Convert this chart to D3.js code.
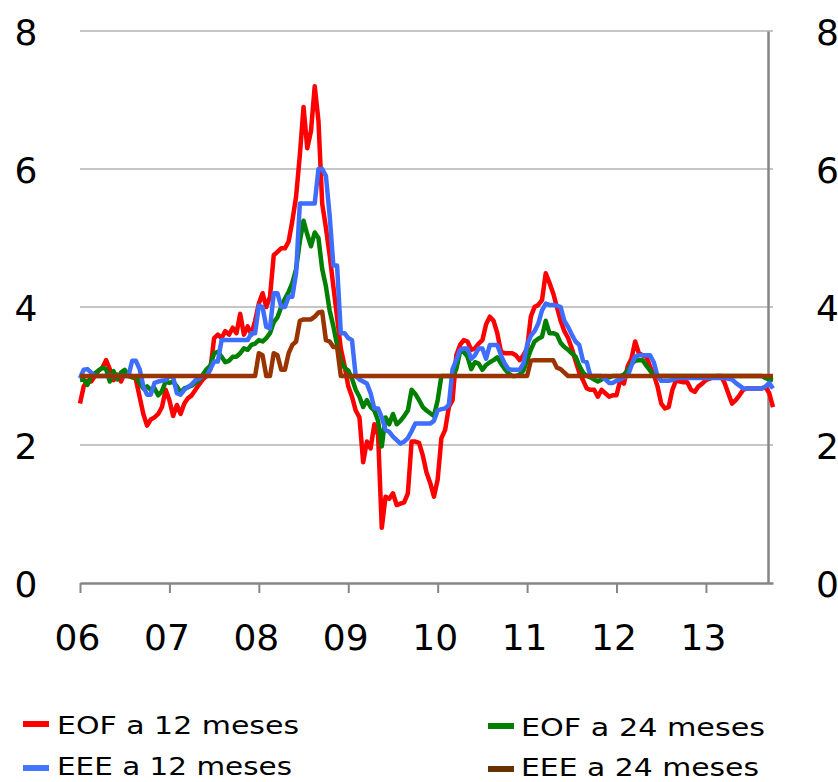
<!DOCTYPE html>
<html>
<head>
<meta charset="utf-8">
<script src="https://cdn.jsdelivr.net/npm/d3@7"></script>
<style>
  body { margin: 0; background: #fff; }
  svg { display: block; }
</style>
</head>
<body>
<svg id="chart" width="838" height="782"></svg>
<script>
// Inflation expectations, half-monthly observations from Jan 2006 to Oct 2013
const startYear = 2006;
const stepsPerYear = 24;

const yearTicks = [2006, 2007, 2008, 2009, 2010, 2011, 2012, 2013];
const yearLabels = ["06", "07", "08", "09", "10", "11", "12", "13"];
const valueTicks = [0, 2, 4, 6, 8];

const seriesNames = ["EOF a 12 meses", "EOF a 24 meses", "EEE a 12 meses", "EEE a 24 meses"];

// EOF, 12 months ahead
const eof12 = [
  2.6, 2.85, 2.93, 2.92, 3.0, 3.08, 3.12, 3.23, 3.1, 2.94, 3.02, 2.92, 3.05, 3.0, 3.0, 2.95, 2.7, 2.45, 2.28, 2.37, 2.4, 2.45, 2.55, 2.8,
  2.65, 2.42, 2.58, 2.45, 2.6, 2.68, 2.72, 2.8, 2.88, 2.95, 3.0, 3.1, 3.55, 3.6, 3.55, 3.65, 3.6, 3.7, 3.62, 3.9, 3.6, 3.72, 3.6, 3.8,
  4.05, 4.2, 4.0, 4.15, 4.75, 4.8, 4.85, 4.85, 4.95, 5.25, 5.6, 6.2, 6.9, 6.3, 6.55, 7.2, 6.7, 5.5, 5.15, 4.75, 4.3, 3.85, 3.4, 3.15,
  2.85, 2.7, 2.5, 2.4, 1.75, 2.05, 1.95, 2.3, 2.15, 0.8, 1.25, 1.22, 1.3, 1.13, 1.15, 1.17, 1.3, 2.05, 2.05, 2.03, 1.85, 1.6, 1.45, 1.25,
  1.5, 2.1, 2.22, 2.55, 2.65, 3.3, 3.45, 3.52, 3.5, 3.38, 3.4, 3.47, 3.52, 3.75, 3.86, 3.8, 3.62, 3.35, 3.33, 3.33, 3.33, 3.3, 3.23, 3.3,
  3.4, 3.86, 4.0, 4.03, 4.1, 4.49, 4.35, 4.2, 4.0, 3.8, 3.65, 3.55, 3.4, 3.22, 3.05, 2.94, 2.82, 2.8, 2.8, 2.7, 2.8, 2.75, 2.7, 2.72,
  2.72, 2.94, 2.89, 3.14, 3.25, 3.5, 3.33, 3.3, 3.28, 3.14, 3.02, 2.85, 2.6, 2.53, 2.55, 2.8, 2.94, 2.92, 2.91, 2.91, 2.8, 2.77, 2.85, 2.89,
  2.94, 2.96, 2.99, 3.0, 3.0, 2.9, 2.75, 2.6, 2.65, 2.72, 2.8, 2.82, 2.82, 2.82, 2.82, 2.82, 2.84, 2.75, 2.55
];

// EOF, 24 months ahead
const eof24 = [
  2.94, 2.95, 2.87, 3.0, 3.04, 3.08, 3.12, 3.1, 2.92, 3.07, 2.95, 3.05, 3.09, 3.0, 2.98, 3.0, 2.9, 2.82, 2.85, 2.8, 2.82, 2.72, 2.78, 2.92,
  2.9, 2.92, 2.85, 2.76, 2.82, 2.84, 2.86, 2.9, 2.94, 3.02, 3.1, 3.15, 3.33, 3.35, 3.28, 3.2, 3.22, 3.28, 3.28, 3.33, 3.4, 3.38, 3.45, 3.47,
  3.52, 3.5, 3.55, 3.62, 3.78, 3.85, 4.0, 4.12, 4.22, 4.35, 4.55, 4.95, 5.25, 5.05, 4.88, 5.08, 5.0, 4.55, 4.3, 3.95, 3.72, 3.45, 3.22, 3.12,
  3.08, 2.96, 2.8, 2.7, 2.55, 2.65, 2.55, 2.5, 2.35, 1.98, 2.4, 2.3, 2.45, 2.3, 2.35, 2.42, 2.5, 2.8, 2.74, 2.65, 2.55, 2.5, 2.46, 2.42,
  2.65, 3.0, 3.0, 3.0, 3.0, 3.1, 3.35, 3.35, 3.28, 3.1, 3.2, 3.18, 3.09, 3.16, 3.2, 3.23, 3.27, 3.18, 3.1, 3.04, 3.0, 3.0, 3.02, 3.08,
  3.23, 3.38, 3.5, 3.54, 3.57, 3.8, 3.62, 3.62, 3.6, 3.48, 3.42, 3.38, 3.33, 3.28, 3.15, 3.05, 3.0, 2.98, 2.95, 2.92, 2.95, 3.0, 2.98, 3.0,
  3.0, 3.0, 3.02, 3.08, 3.18, 3.22, 3.23, 3.23, 3.15, 3.08, 3.0, 3.0, 3.0, 3.0, 3.0, 3.0, 3.0, 3.0, 3.0, 3.0, 3.0, 3.0, 3.0, 3.0,
  3.0, 3.0, 3.0, 3.0, 3.0, 3.0, 3.0, 3.0, 3.0, 3.0, 3.0, 3.0, 3.0, 3.0, 3.0, 3.0, 2.97, 2.95, 2.94
];

// EEE, 12 months ahead
const eee12 = [
  2.97, 3.09, 3.1, 3.05, 3.0, 3.0, 3.0, 3.0, 3.0, 3.0, 3.0, 3.0, 3.0, 3.0, 3.22, 3.22, 3.1, 2.85, 2.73, 2.73, 2.9, 2.92, 2.93, 2.94,
  3.0, 2.98, 2.75, 2.73, 2.8, 2.84, 2.88, 2.94, 2.96, 3.0, 3.0, 3.1, 3.21, 3.21, 3.52, 3.52, 3.52, 3.52, 3.52, 3.52, 3.52, 3.52, 3.62, 3.62,
  4.02, 4.0, 3.71, 3.69, 4.2, 4.2, 4.0, 4.0, 4.15, 4.15, 4.49, 5.5, 5.5, 5.5, 5.5, 5.5, 6.0, 6.0, 5.9, 5.33, 4.6, 4.6, 3.62, 3.62,
  3.55, 3.52, 3.0, 2.95, 2.92, 2.89, 2.75, 2.53, 2.53, 2.4, 2.22, 2.19, 2.12, 2.07, 2.02, 2.05, 2.1, 2.2, 2.31, 2.31, 2.31, 2.31, 2.31, 2.35,
  2.5, 2.52, 2.53, 2.58, 3.1, 3.23, 3.38, 3.4, 3.4, 3.25, 3.3, 3.4, 3.4, 3.25, 3.45, 3.45, 3.45, 3.3, 3.18, 3.1, 3.09, 3.09, 3.09, 3.18,
  3.45, 3.58, 3.65, 3.76, 3.95, 4.05, 4.03, 4.03, 4.02, 4.0, 3.8, 3.71, 3.6, 3.5, 3.45, 3.22, 3.2, 3.0, 3.0, 3.0, 3.0, 2.95, 2.9, 2.9,
  2.93, 2.95, 2.98, 3.0, 3.15, 3.28, 3.3, 3.3, 3.3, 3.3, 3.2, 3.0, 2.93, 2.93, 2.93, 2.94, 2.97, 2.97, 2.97, 2.97, 2.97, 2.97, 2.97, 2.97,
  2.97, 2.97, 2.97, 2.97, 2.97, 2.97, 2.96, 2.95, 2.9, 2.86, 2.82, 2.82, 2.82, 2.82, 2.82, 2.82, 2.85, 2.9, 2.82
];

// EEE, 24 months ahead
const eee24 = [
  3.0, 3.0, 3.0, 3.0, 3.0, 3.0, 3.0, 3.0, 3.0, 3.0, 3.0, 3.0, 3.0, 3.0, 3.0, 3.0, 3.0, 3.0, 3.0, 3.0, 3.0, 3.0, 3.0, 3.0,
  3.0, 3.0, 3.0, 3.0, 3.0, 3.0, 3.0, 3.0, 3.0, 3.0, 3.0, 3.0, 3.0, 3.0, 3.0, 3.0, 3.0, 3.0, 3.0, 3.0, 3.0, 3.0, 3.0, 3.0,
  3.33, 3.3, 3.0, 3.0, 3.33, 3.3, 3.09, 3.09, 3.33, 3.45, 3.5, 3.8, 3.82, 3.82, 3.82, 3.86, 3.92, 3.93, 3.52, 3.5, 3.42, 3.42, 3.0, 3.0,
  3.0, 3.0, 3.0, 3.0, 3.0, 3.0, 3.0, 3.0, 3.0, 3.0, 3.0, 3.0, 3.0, 3.0, 3.0, 3.0, 3.0, 3.0, 3.0, 3.0, 3.0, 3.0, 3.0, 3.0,
  3.0, 3.0, 3.0, 3.0, 3.0, 3.0, 3.0, 3.0, 3.0, 3.0, 3.0, 3.0, 3.0, 3.0, 3.0, 3.0, 3.0, 3.0, 3.0, 3.0, 3.0, 3.0, 3.0, 3.0,
  3.0, 3.22, 3.23, 3.23, 3.23, 3.23, 3.23, 3.23, 3.12, 3.1, 3.05, 3.0, 3.0, 3.0, 3.0, 3.0, 3.0, 3.0, 3.0, 3.0, 3.0, 3.0, 3.0, 3.0,
  3.0, 3.0, 3.0, 3.0, 3.0, 3.0, 3.0, 3.0, 3.0, 3.0, 3.0, 3.0, 3.0, 3.0, 3.0, 3.0, 3.0, 3.0, 3.0, 3.0, 3.0, 3.0, 3.0, 3.0,
  3.0, 3.0, 3.0, 3.0, 3.0, 3.0, 3.0, 3.0, 3.0, 3.0, 3.0, 3.0, 3.0, 3.0, 3.0, 3.0, 3.0, 3.0, 3.0
];

// Observation dates as fractional years (two per month)
const periods = eof12.map((_, i) => startYear + i / stepsPerYear);

const lineColors = ["#ff0000", "#008000", "#3d6eff", "#993300"];
const legendColors = ["#ff0000", "#008000", "#4477ff", "#663300"];
const seriesValues = [eof12, eof24, eee12, eee24];

const svg = d3.select("#chart");
const font = "'DejaVu Sans', Verdana, sans-serif";

const plotLeft = 80, plotRight = 773, plotTop = 31, plotBottom = 583;
const rightAxisX = 768;

const x = d3.scaleLinear().domain([2006, 2013.75]).range([plotLeft, plotRight]);
const y = d3.scaleLinear().domain([0, 8]).range([plotBottom, plotTop]);

// horizontal gridlines
svg.append("g")
  .selectAll("line")
  .data(valueTicks.filter(v => v > 0))
  .join("line")
  .attr("x1", plotLeft)
  .attr("x2", plotRight)
  .attr("y1", d => y(d))
  .attr("y2", d => y(d))
  .attr("stroke", "#c6c6c6")
  .attr("stroke-width", 2);

// left value labels
const leftAxis = svg.append("g")
  .attr("transform", `translate(${plotLeft},0)`)
  .call(d3.axisLeft(y).tickValues(valueTicks).tickSize(0).tickFormat(d3.format("d")));
leftAxis.select(".domain").remove();
leftAxis.selectAll("text")
  .attr("x", -54)
  .attr("dy", 13)
  .attr("text-anchor", "middle")
  .style("font-family", font)
  .style("font-size", "36px")
  .attr("fill", "#000");

// right axis with labels
const rightAxis = svg.append("g")
  .attr("transform", `translate(${rightAxisX},0)`)
  .call(d3.axisRight(y).tickValues(valueTicks).tickSize(0).tickSizeOuter(0).tickFormat(d3.format("d")));
rightAxis.select(".domain")
  .attr("stroke", "#868686")
  .attr("stroke-width", 2.5);
rightAxis.selectAll("text")
  .attr("x", 48)
  .attr("dy", 13)
  .attr("text-anchor", "start")
  .style("font-family", font)
  .style("font-size", "36px")
  .attr("fill", "#000");

// bottom axis with year ticks
const bottomAxis = svg.append("g")
  .attr("transform", `translate(0,${plotBottom})`)
  .call(d3.axisBottom(x)
    .tickValues(yearTicks)
    .tickSize(10)
    .tickSizeOuter(0)
    .tickFormat((d, i) => yearLabels[i]));
bottomAxis.select(".domain")
  .attr("stroke", "#868686")
  .attr("stroke-width", 2.5);
bottomAxis.selectAll(".tick line")
  .attr("stroke", "#868686")
  .attr("stroke-width", 2);
bottomAxis.selectAll("text")
  .attr("y", 67)
  .attr("x", -3)
  .attr("dy", 0)
  .style("font-family", font)
  .style("font-size", "36px")
  .attr("fill", "#000");

// series lines
const line = d3.line()
  .x((d, i) => x(periods[i]))
  .y(d => y(d));

svg.append("g")
  .selectAll("path")
  .data(seriesValues)
  .join("path")
  .attr("d", d => line(d))
  .attr("fill", "none")
  .attr("stroke", (d, i) => lineColors[i])
  .attr("stroke-width", 4.5)
  .attr("stroke-linejoin", "round")
  .attr("stroke-linecap", "butt");

// legend: two columns, two rows
const legendItems = [
  { name: seriesNames[0], color: legendColors[0], sx: 23, tx: 57, sy: 724, by: 734, len: 242 },
  { name: seriesNames[1], color: legendColors[1], sx: 488, tx: 521, sy: 726, by: 736, len: 244 },
  { name: seriesNames[2], color: legendColors[2], sx: 23, tx: 57, sy: 768, by: 775, len: 235 },
  { name: seriesNames[3], color: legendColors[3], sx: 488, tx: 521, sy: 769, by: 776, len: 238 }
];

const legend = svg.append("g");
legend.selectAll("line")
  .data(legendItems)
  .join("line")
  .attr("x1", d => d.sx)
  .attr("x2", d => d.sx + 26)
  .attr("y1", d => d.sy)
  .attr("y2", d => d.sy)
  .attr("stroke", d => d.color)
  .attr("stroke-width", 6);

legend.selectAll("text")
  .data(legendItems)
  .join("text")
  .attr("x", d => d.tx)
  .attr("y", d => d.by)
  .attr("textLength", d => d.len)
  .attr("lengthAdjust", "spacingAndGlyphs")
  .style("font-family", font)
  .style("font-size", "25px")
  .attr("fill", "#000")
  .text(d => d.name);
</script>
</body>
</html>
